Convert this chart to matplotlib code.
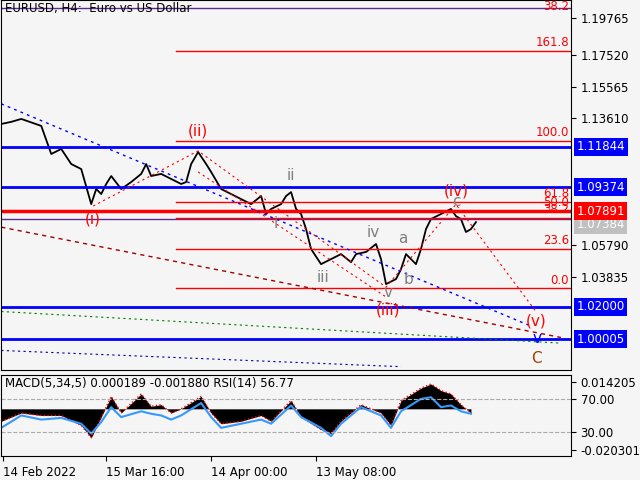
import matplotlib
matplotlib.use("Agg")
import matplotlib.pyplot as plt
import numpy as np

# price path (bar index, price)
px = [0, 10, 20, 40, 50, 60, 70, 80, 90, 95, 100, 105, 110, 120, 130, 140, 145, 150, 160, 170,
      180, 185, 190, 197, 205, 210, 220, 230, 240, 250, 260, 265, 270, 280, 285, 290, 295, 300,
      305, 310, 320, 330, 340, 350, 355, 365, 375, 380, 385, 395, 400, 405, 410, 415, 420, 425,
      430, 440, 450, 455, 460, 465, 470, 475]
py = [1.1326, 1.1339, 1.1357, 1.1314, 1.1141, 1.1172, 1.1079, 1.1048, 1.0832, 1.0925, 1.0894,
      1.0956, 1.1005, 1.0925, 1.0968, 1.1018, 1.1079, 1.1005, 1.1018, 1.0987, 1.0956, 1.0968,
      1.1079, 1.1153, 1.1079, 1.1030, 1.0925, 1.0894, 1.0863, 1.0832, 1.0882, 1.0771, 1.0802,
      1.0832, 1.0882, 1.0906, 1.0802, 1.0771, 1.0678, 1.0555, 1.0462, 1.0493, 1.0524, 1.0474,
      1.0524, 1.0537, 1.0586, 1.0493, 1.0339, 1.0370, 1.0431, 1.0524, 1.0493, 1.0462, 1.0555,
      1.0678, 1.0740, 1.0771, 1.0802, 1.0758, 1.0740, 1.0660, 1.0678, 1.0721]

blue_levels = [1.11844, 1.09374, 1.02000, 1.00005]
fib_names = ["161.8", "100.0", "61.8", "50.0", "38.2", "23.6", "0.0"]
fib_prices = [1.1777, 1.1221, 1.0845, 1.0789, 1.0746, 1.0555, 1.0314]
axis_prices = [1.19765, 1.17520, 1.15565, 1.13610, 1.05790, 1.03835]

# indicator panel
ix = [0, 20, 40, 60, 80, 90, 100, 110, 120, 140, 150, 160, 170, 180, 200, 210, 220, 240, 260,
      270, 290, 300, 320, 330, 340, 360, 380, 390, 400, 420, 430, 440, 450, 460, 470]
hist = [-15, -5, -8, -8, -20, -35, -10, 15, -5, 18, 3, 5, -5, 0, 15, -5, -18, -15, -8, -15, 10,
        -10, -25, -30, -15, 5, -5, -20, 10, 25, 30, 22, 18, 5, -5]
rsi = [35, 50, 45, 47, 40, 28, 42, 60, 48, 55, 52, 50, 45, 50, 65, 48, 35, 40, 45, 40, 62, 48,
       35, 25, 40, 60, 50, 35, 55, 70, 72, 60, 62, 55, 52]
date_pos = [2, 105, 210, 315]
date_labels = ["14 Feb 2022", "15 Mar 16:00", "14 Apr 00:00", "13 May 08:00"]

bg = "#f5f5f5"
fig = plt.figure(figsize=(6.4, 4.8), dpi=100, facecolor=bg)
ax = fig.add_axes([0.002, 0.229, 0.89, 0.771], facecolor=bg)
ax2 = fig.add_axes([0.002, 0.05, 0.89, 0.169], facecolor=bg)
ymin, ymax = 0.9809, 1.2090
ax.set_xlim(0, 570)
ax.set_ylim(ymin, ymax)
ax.plot(px, py, color="black", lw=1.3)

for lv in blue_levels:
    ax.axhline(lv, color="#0000ff", lw=2)
    ax.text(1.01, lv, f"{lv:.5f}", transform=ax.get_yaxis_transform(), va="center", ha="left",
            color="white", fontsize=8.5, bbox=dict(boxstyle="square,pad=0.2", fc="#0000ff", ec="none"))
ax.axhline(1.07891, color="red", lw=2.5)
ax.axhline(1.07384, color="#5a2a8a", lw=1)
ax.text(1.01, 1.07384 - 0.0035, "1.07384", transform=ax.get_yaxis_transform(), va="center",
        color="white", fontsize=8.5, bbox=dict(boxstyle="square,pad=0.2", fc="#c0c0c0", ec="none"))
ax.text(1.01, 1.07891, "1.07891", transform=ax.get_yaxis_transform(), va="center", color="white",
        fontsize=8.5, bbox=dict(boxstyle="square,pad=0.2", fc="red", ec="none"))
ax.axhline(1.2042, color="#5a2a8a", lw=1)
for nm, p in zip(fib_names, fib_prices):
    ax.plot([175, 570], [p, p], color="red", lw=1)
    ax.text(568, p + 0.001, nm, color="red", ha="right", va="bottom", fontsize=8.5)
ax.text(568, 1.2052, "38.2", color="red", ha="right", va="center", fontsize=8.5)
ax.set_yticks(axis_prices)
ax.set_yticklabels([f"{p:.5f}" for p in axis_prices], fontsize=8.5)
ax.yaxis.tick_right()
ax.set_xticks([])

# trend / wave lines
ax.plot([0, 530], [1.1450, 1.0080], color="#0000ff", ls=(0, (2, 3)), lw=1)
ax.plot([0, 560], [1.0690, 1.0010], color="#a00000", ls=(0, (3, 3)), lw=1)
ax.plot([0, 560], [1.0170, 0.9975], color="green", ls=(0, (2, 3)), lw=0.8)
ax.plot([0, 400], [0.9930, 0.9830], color="#0000a0", ls=(0, (2, 3)), lw=0.8)
ax.plot([92, 197, 385, 455, 535], [1.0820, 1.1160, 1.0320, 1.0830, 1.0170], color="red",
        ls=(0, (2, 3)), lw=0.8)
ax.plot([197, 385], [1.1030, 1.0260], color="red", ls=(0, (2, 3)), lw=0.8)

labels = [("(i)", 92, 1.0740, "red"), ("(ii)", 197, 1.1285, "red"), ("(iii)", 387, 1.0180, "red"),
          ("(iv)", 455, 1.0910, "red"), ("(v)", 535, 1.0110, "red"), ("ii", 290, 1.1010, "gray"),
          ("i", 275, 1.0710, "gray"), ("iii", 322, 1.0380, "gray"), ("iv", 372, 1.0660, "gray"),
          ("v", 387, 1.0290, "gray"), ("a", 402, 1.0620, "gray"), ("b", 408, 1.0370, "gray"),
          ("c", 455, 1.0850, "gray"), ("v", 536, 1.0005, "#0000ff"), ("C", 536, 0.9880, "#a04000")]
for t, x, y, c in labels:
    ax.text(x, y, t, color=c, ha="center", va="center", fontsize=11)
ax.text(4, 1.2038, "EURUSD, H4:  Euro vs US Dollar", fontsize=8.5, va="center")

# indicator
ax2.set_xlim(0, 570)
ax2.set_ylim(1, 99)
hv = np.array(hist) + 58
ax2.fill_between(ix, 58, hv, color="black", lw=0)
ax2.plot(ix, hv, color="red", ls=":", lw=1)
ax2.plot(ix, rsi, color="#3399ff", lw=1.5)
for lv in (70, 30):
    ax2.axhline(lv, color="#aaaaaa", ls="--", lw=0.8)
ax2.yaxis.tick_right()
ax2.set_yticks([90, 70, 30, 8])
ax2.set_yticklabels(["0.014205", "70.00", "30.00", "-0.020301"], fontsize=8.5)
ax2.set_xticks(date_pos)
ax2.set_xticklabels(date_labels, fontsize=8.5, ha="left")
ax2.text(4, 88, "MACD(5,34,5) 0.000189 -0.001880 RSI(14) 56.77", fontsize=8.5, va="center")

fig.savefig("out.png", dpi=100, facecolor=bg)
